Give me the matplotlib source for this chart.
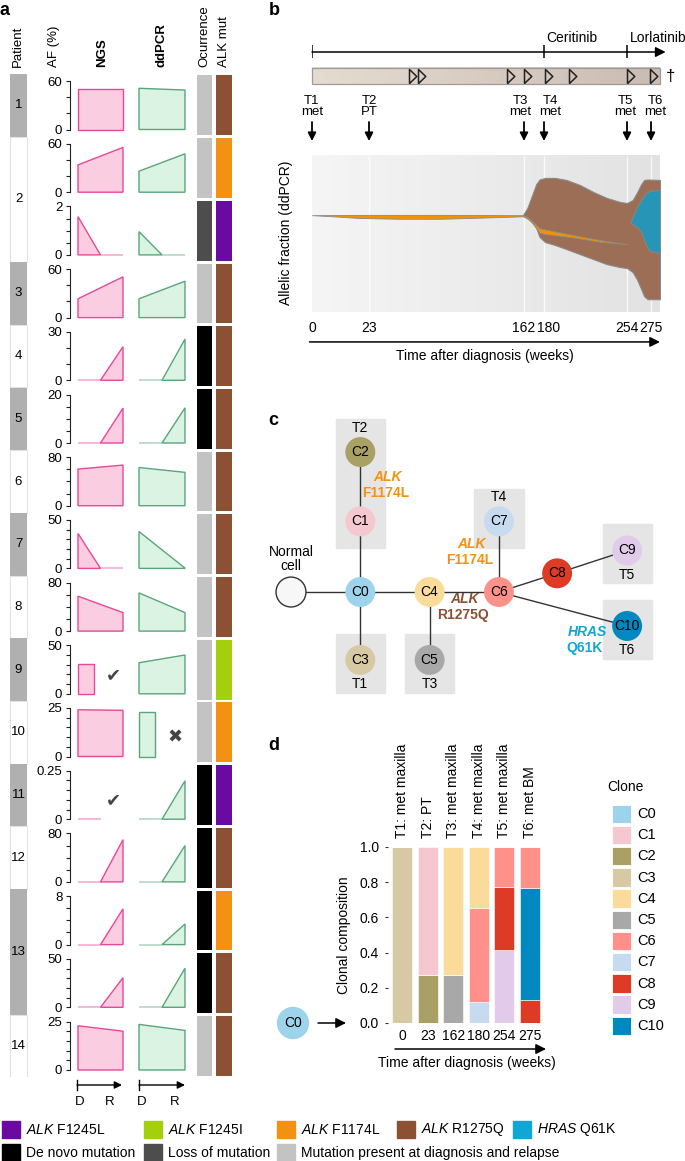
import numpy as np
import matplotlib
matplotlib.use('Agg')
import matplotlib.pyplot as plt
from matplotlib.patches import Rectangle, Circle
from matplotlib.colors import LinearSegmentedColormap
from matplotlib.transforms import offset_copy

plt.rcParams['font.family'] = ['Liberation Sans', 'DejaVu Sans']
plt.rcParams['mathtext.fontset'] = 'custom'
plt.rcParams['mathtext.it'] = 'Liberation Sans:italic'
plt.rcParams['mathtext.rm'] = 'Liberation Sans'

# ---------------- panel a data ----------------
patient = [1, 2, 2, 3, 4, 5, 6, 7, 8, 9, 10, 11, 12, 13, 13, 14]
alk_mut = ['R1275Q', 'F1174L', 'F1245L', 'R1275Q', 'R1275Q', 'R1275Q', 'R1275Q', 'R1275Q',
           'R1275Q', 'F1245I', 'F1174L', 'F1245L', 'R1275Q', 'F1174L', 'R1275Q', 'R1275Q']
occurrence = ['present', 'present', 'loss', 'present', 'denovo', 'denovo', 'present', 'present',
              'present', 'present', 'present', 'denovo', 'denovo', 'denovo', 'denovo', 'present']
af_max = [60, 60, 2, 60, 30, 20, 80, 50, 80, 50, 25, 0.25, 80, 8, 50, 25]
af_step = [20, 20, 0.5, 20, 10, 5, 20, 10, 20, 10, 5, 0.05, 20, 2, 10, 5]
ngs_dx = [50, 33.8, 1.58, 23.3, 0, 0, 60.4, 36, 57.6, 31, 24.1, 0, 0, 0, 0, 22.8]
ngs_rl = [50, 55.4, 0, 50.4, 20.8, 14.4, 67, 0, 30.5, None, 23.8, None, 69.7, 5.9, 30.5, 20]
ddpcr_dx = [51, 26, 0.96, 23.3, 0, 0, 63, 38, 63, 32, 22.8, 0, 0, 0, 0, 23.5]
ddpcr_rl = [48.8, 47.5, 0, 45, 25.5, 14.5, 55, 0.3, 30.5, 40, None, 0.198, 60, 3.4, 40.3, 20.4]
ngs_flag = [None] * 9 + ['✔', None, '✔'] + [None] * 4
ddpcr_flag = [None] * 10 + ['✖'] + [None] * 5

mut_colors = {'F1245L': '#6a0aa0', 'F1245I': '#a3cf0c', 'F1174L': '#f39212',
              'R1275Q': '#8b5132', 'Q61K': '#11a6d6'}
occ_colors = {'denovo': '#000000', 'loss': '#4d4d4d', 'present': '#c3c3c3'}

legend_mut = [('ALK', 'F1245L'), ('ALK', 'F1245I'), ('ALK', 'F1174L'), ('ALK', 'R1275Q'), ('HRAS', 'Q61K')]
legend_occ = [('denovo', 'De novo mutation'), ('loss', 'Loss of mutation'),
              ('present', 'Mutation present at diagnosis and relapse')]

# ---------------- panel b data ----------------
sample_id = ['T1', 'T2', 'T3', 'T4', 'T5', 'T6']
sample_site = ['met', 'PT', 'met', 'met', 'met', 'met']
sample_week = [0, 23, 162, 180, 254, 275]
treatment = ['Ceritinib', 'Lorlatinib']
treatment_start = [180, 254]
event_week = [59, 67, 147, 162, 181, 202, 254, 274]

orange_t = [0, 8, 19, 50, 87, 122, 150, 161, 165, 170, 176, 181, 206, 230, 254]
orange_top = [62, 62.1, 62.2, 62.2, 62.2, 62.1, 62, 62, 60.8, 57.8, 53.6, 52.9, 49.3, 46.1, 43.5]
orange_bot = [62, 61.3, 60.2, 59.7, 59.7, 60.4, 61, 61.3, 59.8, 56.8, 50.8, 49.9, 47.8, 45, 43.5]
brown_t = [161, 165, 169, 173, 176, 181, 190, 200, 212, 224, 236, 248, 254, 259, 263, 266, 269, 272, 283]
brown_top = [62, 66.6, 74.2, 81.9, 84.8, 85.8, 85.8, 84.5, 81.3, 76.8, 73, 70.4, 69.8, 71.7, 76.8,
             81.3, 84.5, 84.8, 84.5]
brown_bot = [62, 60.8, 57.6, 53.8, 48, 44.8, 42.9, 40.3, 37.1, 33.9, 30.7, 28.8, 28.2, 25.6, 20.5,
             15.4, 10.2, 8.3, 8.3]
blue_t = [257, 260, 263, 266.5, 269, 272, 274.5, 283]
blue_top = [57, 62.7, 67.4, 71.7, 74.9, 76.8, 77.6, 78.1]
blue_bot = [57, 55.7, 54.4, 51.2, 46.1, 41, 39, 37.8]

# ---------------- panel c data ----------------
edges = [('Normal', 'C0'), ('C0', 'C4'), ('C4', 'C6'), ('C0', 'C1'), ('C1', 'C2'), ('C0', 'C3'),
         ('C4', 'C5'), ('C6', 'C7'), ('C6', 'C8'), ('C8', 'C9'), ('C6', 'C10')]
sample_clones = [['C3'], ['C2', 'C1'], ['C5'], ['C7'], ['C9'], ['C10']]
sample_label_side = ['below', 'above', 'below', 'above', 'below', 'below']
tree_mutations = [('ALK', 'F1174L', 'F1174L'), ('ALK', 'F1174L', 'F1174L'),
                  ('ALK', 'R1275Q', 'R1275Q'), ('HRAS', 'Q61K', 'Q61K')]

# ---------------- panel d data ----------------
clone = ['C0', 'C1', 'C2', 'C3', 'C4', 'C5', 'C6', 'C7', 'C8', 'C9', 'C10']
clone_color = ['#9dd4ec', '#f5c8cf', '#a8a065', '#d6c9a3', '#fadb9a', '#a8a8a8',
               '#ff918a', '#c6daf0', '#dd3b25', '#e2cbea', '#0088c0']
sample_desc = ['T1: met maxilla', 'T2: PT', 'T3: met maxilla', 'T4: met maxilla',
               'T5: met maxilla', 'T6: met BM']
frac_c1 = [0, 0.73, 0, 0, 0, 0]
frac_c2 = [0, 0.27, 0, 0, 0, 0]
frac_c3 = [1.0, 0, 0, 0, 0, 0]
frac_c4 = [0, 0, 0.73, 0.345, 0, 0]
frac_c5 = [0, 0, 0.27, 0, 0, 0]
frac_c6 = [0, 0, 0, 0.536, 0.227, 0.231]
frac_c7 = [0, 0, 0, 0.119, 0, 0]
frac_c8 = [0, 0, 0, 0, 0.36, 0.129]
frac_c9 = [0, 0, 0, 0, 0.413, 0]
frac_c10 = [0, 0, 0, 0, 0, 0.64]
stack_order = ['C3', 'C5', 'C2', 'C7', 'C9', 'C8', 'C10', 'C6', 'C4', 'C1']

# ------------------------------------------------------------------
W, H = 685, 1161
fig = plt.figure(figsize=(W / 100, H / 100), dpi=100)


def px_axes(x0, y0, x1, y1):
    ax = fig.add_axes([x0 / W, 1 - y1 / H, (x1 - x0) / W, (y1 - y0) / H])
    ax.patch.set_visible(False)
    return ax


cv = px_axes(0, 0, W, H)
cv.axis('off')

for lab, x, y in [('a', 0, 2), ('b', 269, 2), ('c', 268, 412), ('d', 268, 737)]:
    cv.text(x, y, lab, fontsize=13, fontweight='bold', ha='left', va='top')

# ---------------- panel a ----------------
headers = [('Patient', 17.5, 'normal'), ('AF (%)', 54, 'normal'), ('NGS', 102.5, 'bold'),
           ('ddPCR', 162, 'bold'), ('Ocurrence', 204, 'normal'), ('ALK mut', 224, 'normal')]
for txt, x, w in headers:
    cv.text(x, 67, txt, rotation=90, ha='center', va='bottom', fontsize=9.5, fontweight=w)

n = len(patient)
pitch = 62.7
row_top = [81 + pitch * i for i in range(n)]
row_h = 48.5

gx = px_axes(0, 74, 240, 74 + pitch * n)
gx.set_xlim(0, 240)
gx.set_ylim(n, 0)
gx.axis('off')
for p in sorted(set(patient)):
    rows = [i for i, q in enumerate(patient) if q == p]
    y0, y1 = rows[0], rows[-1] + 1
    odd = p % 2 == 1
    gx.bar(18.5, y1 - y0, bottom=y0, width=17, align='center',
           color='#b0b0b0' if odd else 'white', edgecolor='none' if odd else '#e2e2e2', lw=0.8)
    gx.text(18.5, (y0 + y1) / 2, str(p), ha='center', va='center', fontsize=9.5)
for i in range(n):
    gx.barh(i + 0.5, 15, left=197, height=0.955, color=occ_colors[occurrence[i]])
    gx.barh(i + 0.5, 16, left=216, height=0.955, color=mut_colors[alk_mut[i]])


def draw_af(ax, d, r, face, edge, flag, top):
    kw = dict(facecolor=face, edgecolor=edge, lw=1.0, clip_on=False)
    zkw = dict(color=edge, lw=1.2, alpha=0.45, clip_on=False, solid_capstyle='butt')
    if r is None:
        if d > 0:
            ax.fill([0, 0, 0.35, 0.35], [0, d, d, 0], **kw)
        else:
            ax.plot([0, 0.5], [0, 0], **zkw)
    elif d > 0 and r > 0:
        ax.fill([0, 0, 1, 1], [0, d, r, 0], **kw)
    elif d > 0:
        ax.fill([0, 0, 0.5], [0, d, 0], **kw)
        ax.plot([0.5, 1], [0, 0], **zkw)
    else:
        ax.plot([0, 0.5], [0, 0], **zkw)
        ax.fill([0.5, 1, 1], [0, r, 0], **kw)
    if flag:
        ax.text(0.78, top * 0.38, flag, ha='center', va='center', fontsize=13, color='#444444')


for i in range(n):
    t = row_top[i]
    na = px_axes(70, t, 123, t + row_h)
    na.set_xlim(-8 / 45, 1)
    na.set_ylim(0, af_max[i])
    for s in ['top', 'right', 'bottom']:
        na.spines[s].set_visible(False)
    na.spines['left'].set_linewidth(0.8)
    na.spines['left'].set_color('#222222')
    na.set_xticks([])
    ticks = np.arange(0, af_max[i] + af_step[i] / 2, af_step[i])
    labels = [''] * len(ticks)
    labels[0] = '0'
    labels[-1] = f'{af_max[i]:g}'
    na.set_yticks(ticks, labels)
    na.tick_params(axis='y', length=3, width=0.8, color='#222222', pad=2.5, labelsize=9.5)
    draw_af(na, ngs_dx[i], ngs_rl[i], '#fbcde0', '#e8479a', ngs_flag[i], af_max[i])

    da = px_axes(139, t, 185, t + row_h)
    da.set_xlim(0, 1)
    da.set_ylim(0, af_max[i])
    da.axis('off')
    draw_af(da, ddpcr_dx[i], ddpcr_rl[i], '#dbf3e2', '#5aa57b', ddpcr_flag[i], af_max[i])

# D -> R arrows
for x0, x1, xd, xr in [(77, 122, 80, 110), (139, 185, 142, 175)]:
    cv.plot([x0, x0], [1080, 1090], color='k', lw=1)
    cv.annotate('', xy=(x1, 1085), xytext=(x0, 1085),
                arrowprops=dict(arrowstyle='-|>', color='k', lw=1, mutation_scale=11,
                                shrinkA=0, shrinkB=0))
    cv.text(xd, 1102, 'D', ha='center', va='center', fontsize=9.5)
    cv.text(xr, 1102, 'R', ha='center', va='center', fontsize=9.5)

# bottom legend
for (gene, var), x in zip(legend_mut, [2, 144, 277, 397, 513]):
    cv.add_patch(Rectangle((x, 1121), 18, 17, color=mut_colors[var]))
    cv.text(x + 24, 1130, rf'$\mathit{{{gene}}}$ {var}', ha='left', va='center', fontsize=10)
for (key, txt), x in zip(legend_occ, [2, 144, 277]):
    cv.add_patch(Rectangle((x, 1144), 18, 17, color=occ_colors[key]))
    cv.text(x + 24, 1153, txt, ha='left', va='center', fontsize=10)

# ---------------- panel b ----------------
warp_w = [-60, 0, 23, 162, 180, 254, 275, 283, 340]
warp_p = [312 - 60 * 57 / 23, 312, 369, 524, 544, 627, 651, 660, 660 + 57 * 1.125]


def fwd(t):
    return np.interp(t, warp_w, warp_p)


def inv(p):
    return np.interp(p, warp_p, warp_w)


tl = px_axes(312, 20, 660, 150)
tl.set_xscale('function', functions=(fwd, inv))
tl.set_xlim(0, 283)
tl.set_ylim(150, 20)
tl.axis('off')

tl.annotate('', xy=(288, 52), xytext=(0, 52), annotation_clip=False,
            arrowprops=dict(arrowstyle='-|>', color='k', lw=1.1, mutation_scale=15,
                            shrinkA=0, shrinkB=0))
tl.vlines([0] + treatment_start, 45.5, 58.5, color='k', lw=1.1)
for name, w in zip(treatment, treatment_start):
    tl.text(w, 38, name, ha='left', va='center', fontsize=10,
            transform=offset_copy(tl.transData, fig=fig, x=2.5, units='dots'))

bar_cmap = LinearSegmentedColormap.from_list('bar', ['#e5dcd0', '#cbbcb3'])
cv.imshow(np.linspace(0, 1, 256)[None, :], extent=(312, 660, 84.3, 67.7), cmap=bar_cmap,
          aspect='auto', zorder=1)
cv.add_patch(Rectangle((312, 67.7), 348, 16.6, fill=False, ec='#9b9b9b', lw=0.9, zorder=2))

tri = [(0, -1), (1.04, 0), (0, 1), (0, -1)]
tl.plot(event_week, [76] * len(event_week), ls='none', marker=tri, ms=10.5,
        mfc='none', mec='#222222', mew=1.1, clip_on=False)
tl.text(288.5, 76, '†', ha='left', va='center', fontsize=12)

sample_nudge = {'T3': -4, 'T4': 6, 'T5': -2, 'T6': 4}
for s, site, w in zip(sample_id, sample_site, sample_week):
    tr = offset_copy(tl.transData, fig=fig, x=sample_nudge.get(s, 0), units='dots')
    tl.text(w, 106.5, f'{s}\n{site}', ha='center', va='center', fontsize=9.5,
            linespacing=0.95, transform=tr)
    tl.annotate('', xy=(w, 141), xytext=(w, 122), annotation_clip=False,
                arrowprops=dict(arrowstyle='-|>', color='k', lw=1.3, mutation_scale=12,
                                shrinkA=0, shrinkB=0))

bg_cmap = LinearSegmentedColormap.from_list('bg', ['#f5f5f5', '#e2e2e2'])
cv.imshow(np.linspace(0, 1, 256)[None, :], extent=(312, 660, 312.2, 155.7), cmap=bg_cmap,
          aspect='auto', zorder=1)

fx = px_axes(312, 155.7, 660, 312.2)
fx.set_xscale('function', functions=(fwd, inv))
fx.set_xlim(0, 283)
fx.set_ylim(0, 100)
fx.axis('off')
fx.vlines(sample_week[1:], 0, 100, color='white', lw=1, alpha=0.8, zorder=0.5)
fx.fill_between(brown_t, brown_bot, brown_top, facecolor='#9c6e56', edgecolor='#8a8a8a', lw=0.8)
fx.fill_between(orange_t, orange_bot, orange_top, facecolor='#f39200', edgecolor='#8a8a8a', lw=0.6)
fx.fill_between(blue_t, blue_bot, blue_top, facecolor='#2795b5', edgecolor='#8a8a8a', lw=0.6)

label_nudge = {180: 5}
for w in sample_week:
    tr = offset_copy(fx.get_xaxis_transform(), fig=fig, x=label_nudge.get(w, 0), units='dots')
    fx.text(w, -0.102, str(w), transform=tr, ha='center', va='center', fontsize=10)
fx.annotate('', xy=(283, -0.19), xytext=(-1, -0.19), xycoords=('data', 'axes fraction'),
            textcoords=('data', 'axes fraction'), annotation_clip=False,
            arrowprops=dict(arrowstyle='-|>', color='k', lw=1.1, mutation_scale=15,
                            shrinkA=0, shrinkB=0))
cv.text(485, 356, 'Time after diagnosis (weeks)', ha='center', va='center', fontsize=10)
cv.text(286, 233, 'Allelic fraction (ddPCR)', rotation=90, ha='center', va='center', fontsize=10)

# ---------------- panel c ----------------
node_pos = {'Normal': (0, 0), 'C0': (1, 0), 'C4': (2, 0), 'C6': (3, 0), 'C1': (1, 1.02),
            'C2': (1, 2.02), 'C3': (1, -0.98), 'C5': (2, -0.98), 'C7': (3, 1.02),
            'C8': (3.84, 0.27), 'C9': (4.85, 0.6), 'C10': (4.85, -0.49)}
mut_label_pos = [(1.40, 1.66), (2.61, 0.69), (2.51, -0.10), (4.27, -0.58)]

tx = px_axes(270, 400, 685, 700)
tx.set_xlim(-0.303, 5.685)
tx.set_ylim(-1.558, 2.771)
tx.axis('off')

for s, clones, side in zip(sample_id, sample_clones, sample_label_side):
    xs = [node_pos[c][0] for c in clones]
    ys = [node_pos[c][1] for c in clones]
    top = max(ys) + (0.47 if side == 'above' else 0.38)
    bot = min(ys) - (0.47 if side == 'below' else 0.38)
    tx.add_patch(Rectangle((xs[0] - 0.355, bot), 0.71, top - bot, color='#e5e5e5', zorder=0))
    ly = max(ys) + 0.35 if side == 'above' else min(ys) - 0.35
    tx.text(xs[0], ly, s, ha='center', va='center', fontsize=10)

for a, b in edges:
    (x1, y1), (x2, y2) = node_pos[a], node_pos[b]
    tx.plot([x1, x2], [y1, y2], color='#333333', lw=1, zorder=1)

for name, (x, y) in node_pos.items():
    if name == 'Normal':
        tx.add_patch(Circle((x, y), 0.216, fc='#f7f7f7', ec='#333333', lw=1, zorder=2))
        tx.text(x, y + 0.48, 'Normal\ncell', ha='center', va='center', fontsize=10, linespacing=1.0)
    else:
        tx.add_patch(Circle((x, y), 0.216, fc=clone_color[clone.index(name)], ec='none', zorder=2))
        tx.text(x, y, name, ha='center', va='center', fontsize=10, zorder=3)

for (gene, var, key), (x, y) in zip(tree_mutations, mut_label_pos):
    col = mut_colors[key]
    tx.text(x, y, gene, ha='center', va='center', fontsize=10, fontweight='bold',
            fontstyle='italic', color=col)
    tx.text(x - 0.03, y - 0.23, var, ha='center', va='center', fontsize=10,
            fontweight='bold', color=col)

# ---------------- panel d ----------------
fracs = {'C1': frac_c1, 'C2': frac_c2, 'C3': frac_c3, 'C4': frac_c4, 'C5': frac_c5,
         'C6': frac_c6, 'C7': frac_c7, 'C8': frac_c8, 'C9': frac_c9, 'C10': frac_c10}

dx = px_axes(388, 847, 544, 1023)
dx.set_xlim(-0.55, 5.55)
dx.set_ylim(0, 1)
for s in dx.spines.values():
    s.set_visible(False)
xpos = np.arange(len(sample_id))
bottom = np.zeros(len(sample_id))
for c in stack_order:
    vals = np.array(fracs[c])
    dx.bar(xpos, vals, width=0.78, bottom=bottom, color=clone_color[clone.index(c)],
           edgecolor='white', lw=0.4)
    bottom += vals
yt = np.arange(0, 1.01, 0.2)
dx.set_yticks(yt, [f'{v:.1f}' for v in yt])
dx.set_xticks(xpos, [str(w) for w in sample_week])
dx.tick_params(axis='y', length=2.5, width=0.8, color='#333333', pad=4, labelsize=10)
dx.tick_params(axis='x', length=0, pad=4, labelsize=10)
for i, lab in enumerate(sample_desc):
    dx.text(i, 1.05, lab, rotation=90, ha='center', va='bottom', fontsize=10)

cv.text(344, 935, 'Clonal composition', rotation=90, ha='center', va='center', fontsize=10)
cv.annotate('', xy=(546, 1049), xytext=(395, 1049),
            arrowprops=dict(arrowstyle='-|>', color='k', lw=1.1, mutation_scale=15,
                            shrinkA=0, shrinkB=0))
cv.text(467, 1063, 'Time after diagnosis (weeks)', ha='center', va='center', fontsize=10)

cv.add_patch(Circle((293, 1023), 15.5, color=clone_color[0], zorder=2))
cv.text(293, 1023, 'C0', ha='center', va='center', fontsize=10, zorder=3)
cv.annotate('', xy=(346, 1023), xytext=(318, 1023),
            arrowprops=dict(arrowstyle='-|>', color='k', lw=1.1, mutation_scale=15,
                            shrinkA=0, shrinkB=0))

cv.text(607, 787, 'Clone', ha='left', va='center', fontsize=10)
for k, (c, col) in enumerate(zip(clone, clone_color)):
    y0 = 804.5 + 21.2 * k
    cv.add_patch(Rectangle((612, y0), 19, 18.5, fc=col, ec='white', lw=0.6))
    cv.text(637, y0 + 9.5, c, ha='left', va='center', fontsize=10.5)

cv.set_xlim(0, W)
cv.set_ylim(H, 0)

fig.savefig('out.png', dpi=100)
